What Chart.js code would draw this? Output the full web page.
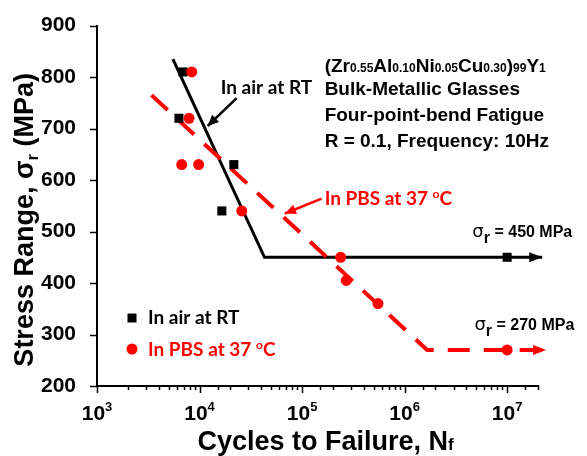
<!DOCTYPE html>
<html>
<head>
<meta charset="utf-8">
<script src="https://cdn.jsdelivr.net/npm/chart.js@4.4.1/dist/chart.umd.min.js"></script>
<style>
  body { margin: 0; background: #fff; }
  #wrap { width: 587px; height: 456px; }
</style>
</head>
<body>
<div id="wrap"><canvas id="fatigue-chart" width="587" height="456"></canvas></div>
<script>
// S-N data (cycles to failure vs stress range in MPa)
var airCycles = [6900, 6300, 21600, 16500, 10000000];
var airStress = [810, 720, 630, 540, 450];
var pbsCycles = [8400, 7900, 6700, 9800, 25800, 238000, 270000, 550000, 10000000];
var pbsStress = [810, 720, 630, 630, 540, 450, 405, 360, 270];
// trend lines, last point = arrow tip
var airFitCycles = [5500, 43000, 22000000];
var airFitStress = [835, 450, 450];
var pbsFitCycles = [3400, 1660000, 24000000];
var pbsFitStress = [765, 270, 270];
// axis labels
var xTickExps = [3, 4, 5, 6, 7];
var yTickLabels = [200, 300, 400, 500, 600, 700, 800, 900];
var airLabel = 'In air at RT';
var pbsLabel = 'In PBS at 37 ';

const BLACK = '#000000';
const RED = '#ff0000';
const ARIAL = '"Liberation Sans", Arial, sans-serif';
const CALIBRI = 'Lato, "Open Sans", sans-serif';

function toPoints(xs, ys) {
    var pts = [];
    for (var i = 0; i < xs.length; i++) {
        pts.push({x: xs[i], y: ys[i]});
    }
    return pts;
}

function arrowHead(ctx, x0, y0, x1, y1, len, half, color) {
    var a = Math.atan2(y1 - y0, x1 - x0);
    ctx.save();
    ctx.fillStyle = color;
    ctx.beginPath();
    ctx.moveTo(x1, y1);
    ctx.lineTo(x1 - len * Math.cos(a) + half * Math.sin(a), y1 - len * Math.sin(a) - half * Math.cos(a));
    ctx.lineTo(x1 - len * Math.cos(a) - half * Math.sin(a), y1 - len * Math.sin(a) + half * Math.cos(a));
    ctx.closePath();
    ctx.fill();
    ctx.restore();
}

// draws [text, isSmall] runs; small runs are sub/superscripts shifted by dy
function drawRuns(ctx, x, y, runs, bigFont, smallFont, dy) {
    runs.forEach(function (r) {
        ctx.font = r[1] ? smallFont : bigFont;
        ctx.fillText(r[0], x, y + (r[1] ? dy : 0));
        x += ctx.measureText(r[0]).width;
    });
    return x;
}
function runsWidth(ctx, runs, bigFont, smallFont) {
    var w = 0;
    runs.forEach(function (r) {
        ctx.font = r[1] ? smallFont : bigFont;
        w += ctx.measureText(r[0]).width;
    });
    return w;
}

var infoRuns = [
    [['(Zr', 0], ['0.55', 1], ['Al', 0], ['0.10', 1], ['Ni', 0], ['0.05', 1], ['Cu', 0], ['0.30', 1], [')', 0], ['99', 1], ['Y', 0], ['1', 1]],
    [['Bulk-Metallic Glasses', 0]],
    [['Four-point-bend Fatigue', 0]],
    [['R = 0.1, Frequency: 10Hz', 0]]
];

const axisTicks = {
    id: 'axisTicks',
    afterDraw(chart) {
        const ctx = chart.ctx, xs = chart.scales.x, ys = chart.scales.y, area = chart.chartArea;
        ctx.save();
        ctx.strokeStyle = BLACK;
        ctx.lineWidth = 1.5;
        ctx.beginPath();
        xs.ticks.forEach(function (t) {
            var p = Math.round(xs.getPixelForValue(t.value)) + 0.5;
            var lg = Math.log10(t.value);
            var len = Math.abs(lg - Math.round(lg)) < 1e-9 ? 7 : 4;
            ctx.moveTo(p, area.bottom);
            ctx.lineTo(p, area.bottom + len);
        });
        ys.ticks.forEach(function (t) {
            var p = Math.round(ys.getPixelForValue(t.value)) + 0.5;
            var len = t.value % 100 === 0 ? 7 : 4;
            ctx.moveTo(area.left, p);
            ctx.lineTo(area.left - len, p);
        });
        ctx.stroke();

        // x tick labels 10^n
        ctx.fillStyle = BLACK;
        ctx.textBaseline = 'alphabetic';
        ctx.textAlign = 'left';
        var big = 'bold 21px ' + ARIAL, small = 'bold 13px ' + ARIAL;
        xTickExps.forEach(function (e) {
            var runs = [['10', 0], [String(e), 1]];
            var w = runsWidth(ctx, runs, big, small);
            var p = xs.getPixelForValue(Math.pow(10, e));
            drawRuns(ctx, p - w / 2, area.bottom + 34, runs, big, small, -9);
        });

        // axis titles
        var tBig = 'bold 27px ' + ARIAL, tSmall = 'bold 17px ' + ARIAL;
        var xRuns = [['Cycles to Failure, N', 0], ['f', 1]];
        var xw = runsWidth(ctx, xRuns, tBig, tSmall);
        drawRuns(ctx, (area.left + area.right) / 2 + 8 - xw / 2, 450, xRuns, tBig, tSmall, 0);

        var yRuns = [['Stress Range, \u03c3', 0], ['r', 1], [' (MPa)', 0]];
        var yw = runsWidth(ctx, yRuns, tBig, tSmall);
        ctx.save();
        ctx.translate(33, (area.top + area.bottom) / 2 + 14);
        ctx.rotate(-Math.PI / 2);
        drawRuns(ctx, -yw / 2, 0, yRuns, tBig, tSmall, 5);
        ctx.restore();
        ctx.restore();
    }
};

const annotations = {
    id: 'annotations',
    afterDraw(chart) {
        const ctx = chart.ctx, xs = chart.scales.x, ys = chart.scales.y, area = chart.chartArea;
        function X(v) { return xs.getPixelForValue(v); }
        function Y(v) { return ys.getPixelForValue(v); }
        ctx.save();
        ctx.textBaseline = 'alphabetic';
        ctx.textAlign = 'left';

        // arrow heads at the end of the trend lines
        chart.data.datasets.forEach(function (ds, i) {
            if (!ds.arrowEnd) return;
            var pts = chart.getDatasetMeta(i).data;
            var a = pts[pts.length - 2], b = pts[pts.length - 1];
            arrowHead(ctx, a.x, a.y, b.x, b.y, 13, 5, ds.borderColor);
        });

        // "In air at RT" pointer
        ctx.strokeStyle = BLACK;
        ctx.lineWidth = 2.5;
        ctx.beginPath();
        ctx.moveTo(X(23000), Y(759));
        ctx.lineTo(X(12000), Y(705));
        ctx.stroke();
        arrowHead(ctx, X(23000), Y(759), X(12000), Y(705), 11, 5, BLACK);
        ctx.fillStyle = BLACK;
        ctx.font = 'bold 19px ' + CALIBRI;
        ctx.fillText(airLabel, X(16100), Y(768));

        // "In PBS at 37 oC" pointer
        ctx.strokeStyle = RED;
        ctx.beginPath();
        ctx.moveTo(X(155000), Y(564));
        ctx.lineTo(X(68000), Y(535));
        ctx.stroke();
        arrowHead(ctx, X(155000), Y(564), X(68000), Y(535), 11, 5, RED);
        ctx.fillStyle = RED;
        var degRuns = [[pbsLabel, 0], ['o', 1], ['C', 0]];
        drawRuns(ctx, X(166000), Y(552), degRuns, 'bold 19px ' + CALIBRI, 'bold 12px ' + CALIBRI, -7);

        // material / test conditions block
        ctx.fillStyle = BLACK;
        var baseX = X(166000);
        var baseY = [72, 95, 121, 147];
        infoRuns.forEach(function (runs, k) {
            drawRuns(ctx, baseX, baseY[k], runs, 'bold 19px ' + ARIAL, 'bold 12px ' + ARIAL, 0);
        });

        // fatigue limits
        var sBig = 'bold 16px ' + ARIAL, sSmall = 'bold 16px ' + ARIAL;
        [[450, 4580000], [270, 4800000]].forEach(function (lim) {
            var x = X(lim[1]), y = Y(lim[0]) - 20;
            ctx.font = '18px "DejaVu Sans", sans-serif';
            ctx.fillText('\u03c3', x, y);
            x += ctx.measureText('\u03c3').width;
            drawRuns(ctx, x, y, [['r', 1], [' = ' + lim[0] + ' MPa', 0]], sBig, sSmall, 6);
        });

        // legend
        ctx.font = 'bold 19px ' + CALIBRI;
        var lx = area.left + 35, ly1 = area.bottom - 68, ly2 = area.bottom - 37;
        ctx.fillStyle = BLACK;
        ctx.fillRect(lx - 4.5, ly1 - 4.5, 9, 9);
        ctx.textBaseline = 'middle';
        ctx.fillText(airLabel, lx + 16, ly1);
        ctx.fillStyle = RED;
        ctx.beginPath();
        ctx.arc(lx, ly2, 5.5, 0, Math.PI * 2);
        ctx.fill();
        ctx.textBaseline = 'alphabetic';
        drawRuns(ctx, lx + 16, ly2 + 7, degRuns, 'bold 19px ' + CALIBRI, 'bold 12px ' + CALIBRI, -7);
        ctx.restore();
    }
};

const ctx = document.getElementById('fatigue-chart').getContext('2d');
var fatigueChart = new Chart(ctx, {
    type: 'scatter',
    data: {
        datasets: [{
            label: 'air fit',
            data: toPoints(airFitCycles, airFitStress),
            showLine: true,
            borderColor: BLACK,
            borderWidth: 3,
            pointRadius: 0,
            clip: false,
            arrowEnd: true,
            order: 3
        }, {
            label: 'PBS fit',
            data: toPoints(pbsFitCycles, pbsFitStress),
            showLine: true,
            borderColor: RED,
            borderWidth: 4,
            borderDash: [22, 14],
            pointRadius: 0,
            clip: false,
            arrowEnd: true,
            order: 2
        }, {
            label: airLabel,
            data: toPoints(airCycles, airStress),
            pointStyle: 'rect',
            pointRadius: 6.4,
            backgroundColor: BLACK,
            borderColor: BLACK,
            borderWidth: 0,
            clip: false,
            order: 1
        }, {
            label: 'In PBS at 37 \u00b0C',
            data: toPoints(pbsCycles, pbsStress),
            pointStyle: 'circle',
            pointRadius: 5.5,
            backgroundColor: RED,
            borderColor: RED,
            borderWidth: 0,
            clip: false,
            order: 0
        }]
    },
    options: {
        responsive: false,
        animation: false,
        layout: {
            padding: {left: 0, right: 49, top: 24, bottom: 0}
        },
        plugins: {
            legend: {display: false},
            tooltip: {enabled: false}
        },
        scales: {
            x: {
                type: 'logarithmic',
                min: 1000,
                max: 20000000,
                grid: {display: false},
                border: {display: true, color: BLACK, width: 2},
                ticks: {display: false},
                afterFit: function (scale) { scale.height = 70; }
            },
            y: {
                min: 200,
                max: 900,
                grid: {display: false},
                border: {display: true, color: BLACK, width: 2},
                ticks: {
                    stepSize: 50,
                    padding: 13,
                    color: BLACK,
                    font: {family: ARIAL, weight: 'bold', size: 21},
                    callback: function (v) {
                        return yTickLabels.indexOf(v) >= 0 ? String(v) : '';
                    }
                },
                afterFit: function (scale) { scale.width = 97; }
            }
        }
    },
    plugins: [axisTicks, annotations]
});
</script>
</body>
</html>
